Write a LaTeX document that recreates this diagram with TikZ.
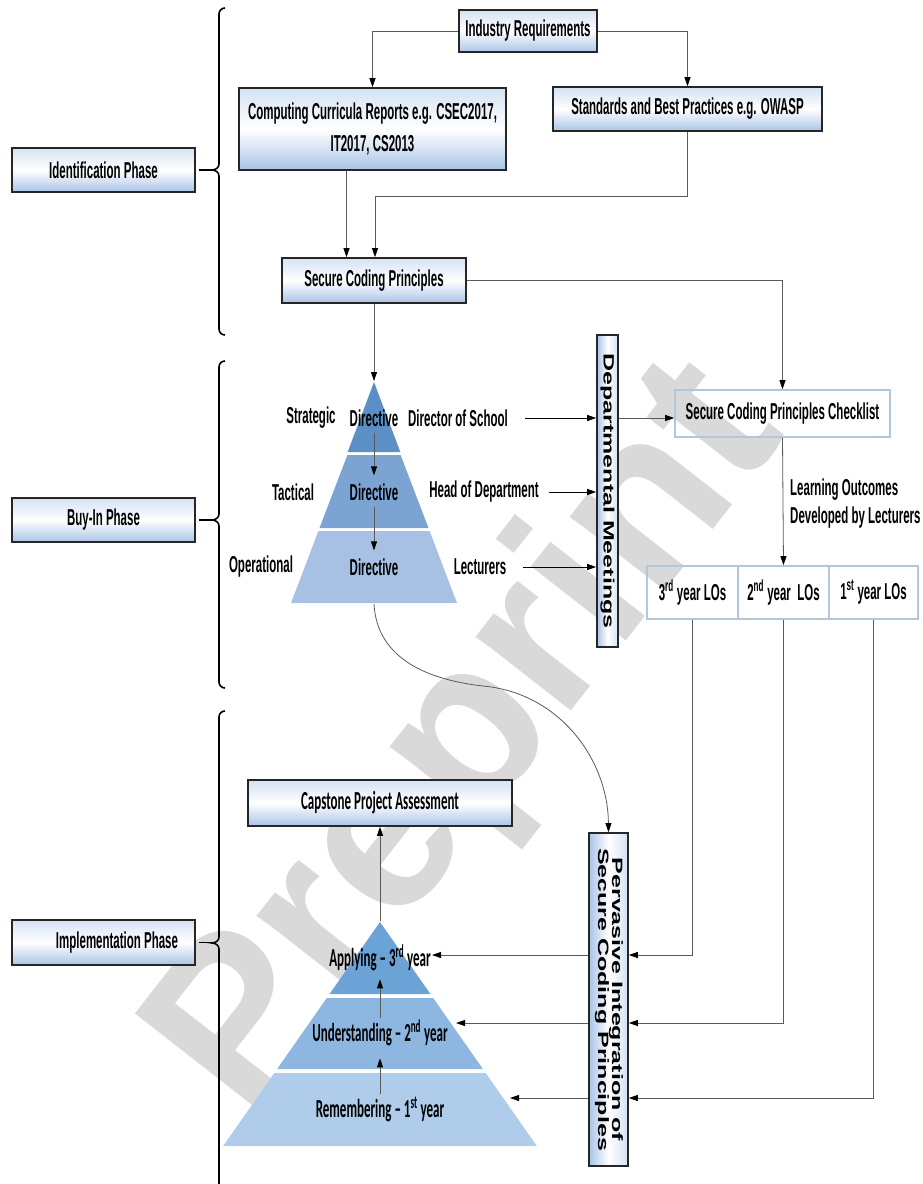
\documentclass[tikz,border=0pt]{standalone}
\usepackage{fontspec}
\setmainfont{Liberation Sans}[FakeStretch=0.5]
\newfontfamily\widefont{Liberation Sans}
\newfontfamily\calibfont{Carlito}[FakeStretch=0.5]
\usetikzlibrary{arrows.meta}
\definecolor{bxtop}{HTML}{D3E2F3}
\definecolor{bxbot}{HTML}{A9C4E6}
\definecolor{wm}{HTML}{D9D9D9}
\definecolor{lnk}{HTML}{5A5A5A}
\definecolor{lbord}{HTML}{B3C6DA}
\definecolor{pa}{HTML}{5B8FC6}
\definecolor{pb}{HTML}{7BA4D3}
\definecolor{pc}{HTML}{A6C1E4}
\definecolor{qa}{HTML}{6BA3D6}
\definecolor{qb}{HTML}{8DB6E1}
\definecolor{qc}{HTML}{AFCDEB}
\begin{document}
\begin{tikzpicture}[x=1pt,y=-1pt,
 txt/.style={font=\fontsize{23}{27}\selectfont\bfseries, inner sep=0pt, text=black},
 ctxt/.style={font=\calibfont\fontsize{26}{30}\selectfont\bfseries, inner sep=0pt, text=black},
 gbox/.style={txt, draw=black!85, line width=1.6pt, top color=bxtop, bottom color=bxbot, middle color=white, align=center},
 lbox/.style={txt, draw=lbord, line width=1.6pt, align=center},
 conn/.style={draw=lnk, line width=0.8pt},
 arr/.style={conn, -{Triangle[length=9pt,width=6pt,color=black]}},
 barr/.style={draw=black, line width=1pt, -{Triangle[length=9pt,width=6pt,color=black]}},
 brc/.style={draw=black, line width=1.6pt},
]
\useasboundingbox (0,0) rectangle (922,1184);

% watermark
\node[rotate=52, text=wm, font=\widefont\bfseries\fontsize{228}{228}\selectfont, inner sep=0pt] (wmk) at (472,742) {Preprint};

% phase boxes and braces
\node[gbox, minimum width=183pt, minimum height=44pt] (idp) at (103.5,170) {Identification Phase};
\node[gbox, minimum width=183pt, minimum height=44pt] (bip) at (103.5,520) {Buy-In Phase};
\node[gbox, minimum width=183pt, minimum height=45pt] (imp) at (103.5,942.5) {\hspace*{27pt}Implementation Phase};

\draw[brc] (225,8) to[out=180,in=90] (219,14) -- (219,164) to[out=-90,in=0] (212,170) to[out=0,in=90] (219,176) -- (219,329) to[out=-90,in=180] (225,335);
\draw[brc] (225,361) to[out=180,in=90] (219,367) -- (219,514) to[out=-90,in=0] (212,520) to[out=0,in=90] (219,526) -- (219,682) to[out=-90,in=180] (225,688);
\draw[brc] (225,711) to[out=180,in=90] (219,717) -- (219,937) to[out=-90,in=0] (212,943) to[out=0,in=90] (219,949) -- (219,1190);
\draw[brc, shorten <=3pt] (idp.east) -- (212,170);
\draw[brc, shorten <=3pt] (bip.east) -- (212,520);
\draw[brc, shorten <=3pt] (imp.east) -- (212,942.5);

% identification phase
\node[gbox, minimum width=138pt, minimum height=42pt] (ind) at (528,31) {Industry Requirements};
\node[gbox, minimum width=267pt, minimum height=82pt, font=\fontsize{23}{32}\selectfont\bfseries] (comp) at (372.5,129) {Computing Curricula Reports e.g. CSEC2017,\\IT2017, CS2013};
\node[gbox, minimum width=269pt, minimum height=44pt] (std) at (687.5,109) {Standards and Best Practices e.g. OWASP};
\node[gbox, minimum width=184pt, minimum height=45pt] (scp) at (374,280.5) {Secure Coding Principles};

\draw[arr] (ind.west) -| (comp.north);
\draw[arr] (ind.east) -| (std.north);
\draw[arr] ([xshift=-26pt]comp.south) -- ([xshift=-26pt]comp.south |- scp.north);
\coordinate (j1) at (375,196);
\draw[arr] (std.south) |- (j1) -- (j1 |- scp.north);

% upper pyramid
\fill[pa] (374,382) -- (400.3,452) -- (347.7,452) -- cycle;
\fill[pb] (347.4,455) -- (400.6,455) -- (428.5,528) -- (319.5,528) -- cycle;
\fill[pc] (318.4,531) -- (429.6,531) -- (457,603) -- (291,603) -- cycle;
\coordinate (apex1) at (374,381);
\coordinate (base1) at (374,604);
\draw[arr] (scp.south) -- (apex1);

\node[txt] (s1) at (311,418) {Strategic};
\node[txt] (d1) at (374,418) {Directive};
\node[txt] (dos) at (458,418) {Director of School};
\node[txt] (t1) at (293,492) {Tactical};
\node[txt] (d2) at (374,492) {Directive};
\node[txt] (hod) at (484,492) {Head of Department};
\node[txt] (o1) at (261,567) {Operational};
\node[txt] (d3) at (374,567) {Directive};
\node[txt] (lec) at (480,567) {Lecturers};
\draw[arr, shorten <=6pt, shorten >=8pt] (d1.south) -- (d2.north);
\draw[arr, shorten <=6pt, shorten >=8pt] (d2.south) -- (d3.north);

% departmental meetings
\node[gbox, minimum width=21pt, minimum height=312pt, left color=bxbot, right color=bxtop, middle color=white] (dept) at (607.5,491)
 {\scalebox{0.6}[1]{\rotatebox{-90}{\widefont\bfseries\fontsize{25}{28}\selectfont Departmental Meetings}}};
\draw[barr] ([xshift=17pt]dos.east) -- (dos -| dept.west);
\draw[barr] ([xshift=10pt]hod.east) -- (hod -| dept.west);
\draw[barr] ([xshift=17pt]lec.east) -- (lec -| dept.west);

% checklist and LOs
\node[lbox, minimum width=215pt, minimum height=47pt] (chk) at (782.5,413.5) {Secure Coding Principles Checklist};
\draw[arr] (scp.east) -| (chk.north);
\draw[arr] (dept.east |- dos) -- (chk.west |- dos);
\node[lbox, minimum width=91pt, minimum height=53pt] (lo3) at (692.5,592.5) {3\textsuperscript{rd} year LOs};
\node[lbox, minimum width=91pt, minimum height=53pt] (lo2) at (783.5,592.5) {2\textsuperscript{nd} year\ \ LOs};
\node[lbox, minimum width=89pt, minimum height=53pt] (lo1) at (873.5,592.5) {1\textsuperscript{st} year LOs};
\draw[arr] (chk.south) -- (lo2.north);
\node[txt, anchor=west, align=left, font=\fontsize{23}{28}\selectfont\bfseries] (lol) at (790,504) {Learning Outcomes\\Developed by Lecturers};

% pervasive integration
\node[gbox, minimum width=39pt, minimum height=333pt, left color=bxbot, right color=bxtop, middle color=white] (perv) at (608.5,999.5)
 {\scalebox{0.6}[1]{\rotatebox{-90}{\widefont\bfseries\fontsize{25}{24}\selectfont\begin{tabular}{@{}c@{}}Pervasive Integration of\\[-2pt]Secure Coding Principles\end{tabular}}}};
\draw[arr] (base1) .. controls (377,660) and (430,680) .. (483,686) .. controls (560,693) and (608,760) .. (perv.north);

\coordinate (y1) at (0,955);
\coordinate (y2) at (0,1023);
\coordinate (y3) at (0,1098);
\draw[arr] (lo3.south) |- (perv.east |- y1);
\draw[arr] (lo2.south) |- (perv.east |- y2);
\draw[arr] (lo1.south) |- (perv.east |- y3);

% lower pyramid
\fill[qa] (380,922) -- (430.4,994) -- (329.6,994) -- cycle;
\fill[qb] (326.8,998) -- (433.2,998) -- (482.9,1069) -- (277.1,1069) -- cycle;
\fill[qc] (274.3,1073) -- (485.7,1073) -- (536.8,1146) -- (223.2,1146) -- cycle;
\coordinate (apex2) at (380,921);
\node[ctxt] (appl) at (380,958) {Applying – 3\textsuperscript{rd} year};
\node[ctxt] (und) at (380,1033) {Understanding – 2\textsuperscript{nd} year};
\node[ctxt] (rem) at (380,1109) {Remembering – 1\textsuperscript{st} year};
\node[gbox, ctxt, minimum width=264pt, minimum height=46pt] (cap) at (380,803) {Capstone Project Assessment};
\draw[arr] (apex2) -- (cap.south);
\draw[arr, shorten <=2pt, shorten >=12pt] (rem.north) -- (und.south);
\draw[arr, shorten <=2pt, shorten >=8pt] (und.north) -- (appl.south);

\coordinate (a1) at (432,955);
\coordinate (a2) at (456,1023);
\coordinate (a3) at (510,1098);
\draw[arr] (perv.west |- y1) -- (a1);
\draw[arr] (perv.west |- y2) -- (a2);
\draw[arr] (perv.west |- y3) -- (a3);
\end{tikzpicture}
\end{document}
